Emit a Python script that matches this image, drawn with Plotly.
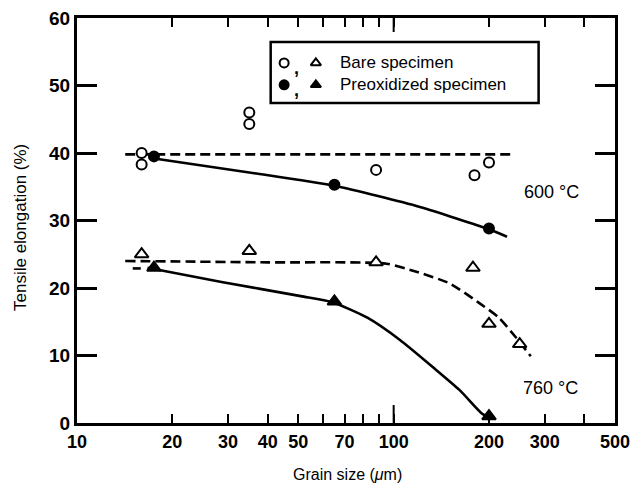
import math
import plotly.graph_objects as go

# Measured points: grain size (um) vs tensile elongation (%)
bare_600_x = [16, 16, 35, 35, 88, 180, 200]
bare_600_y = [40, 38.3, 46, 44.3, 37.5, 36.7, 38.6]
preox_600_x = [17.5, 65, 200]
preox_600_y = [39.5, 35.3, 28.8]

bare_760_x = [16, 35, 88, 178, 200, 250]
bare_760_y = [25, 25.5, 23.8, 23, 14.7, 11.7]
preox_760_x = [17.5, 65, 200]
preox_760_y = [23, 18, 1]

# Trend curves drawn through the data
trend_bare_600_x = [14.2, 234]
trend_bare_600_y = [39.8, 39.8]
trend_preox_600_x = [16.9, 36.3, 65.5, 121, 200, 228]
trend_preox_600_y = [39.3, 37.0, 35.1, 32.0, 28.7, 27.6]
trend_bare_760_x = [14.2, 40, 95, 118, 150, 186, 215, 243, 271]
trend_bare_760_y = [24.0, 23.8, 23.6, 22.4, 20.7, 17.8, 15.6, 12.7, 9.9]
trend_preox_760_x = [16.7, 28.6, 50.9, 64, 82.6, 104.7, 132.8, 161.3, 189, 198]
trend_preox_760_y = [23.0, 20.9, 18.8, 17.9, 15.6, 12.3, 8.3, 4.9, 1.5, 0.9]
stub_760_x = [15.0, 15.9]
stub_760_y = [22.9, 22.9]

# Axis ticks
x_tick_vals = [10, 20, 30, 40, 50, 70, 100, 200, 300, 500]
x_tick_text = ["10", "20", "30", "40", "50", "70", "100", "200", "300", "500"]
x_minor_vals = [60, 80, 90, 400]
x_long_marks = [100]
y_tick_vals = [0, 10, 20, 30, 40, 50, 60]

FONT = "Liberation Sans, Arial, sans-serif"
DASH = "10px,5px"

L, R, T, B = 77, 16, 18, 62
PW, PH = 631 - L - R, 485 - T - B
X_MIN, X_MAX = 10, 500
Y_MAX = 60
LOG_SPAN = math.log10(X_MAX) - math.log10(X_MIN)
PX_Y = PH / Y_MAX           # pixels per y unit


def paper_to_x(fx):
    return 10 ** (math.log10(X_MIN) + fx * LOG_SPAN)


def paper_to_y(fy):
    return fy * Y_MAX


fig = go.Figure()


def curve(x, y, dash, shape="spline", width=2.6):
    fig.add_trace(go.Scatter(
        x=x, y=y, mode="lines",
        line=dict(color="black", width=width, dash=dash, shape=shape, smoothing=0.6),
        showlegend=False, hoverinfo="skip"))


curve(trend_bare_600_x, trend_bare_600_y, DASH, "linear")
curve(trend_preox_600_x, trend_preox_600_y, "solid")
curve(trend_bare_760_x, trend_bare_760_y, DASH)
curve(trend_preox_760_x, trend_preox_760_y, "solid")
curve(stub_760_x, stub_760_y, "solid", "linear")

# Longer decade tick at 100, bottom and top
tx, ty = [], []
for xv in x_long_marks:
    tx += [xv, xv, None, xv, xv, None]
    ty += [0, 18 / PX_Y, None, Y_MAX, Y_MAX - 14 / PX_Y, None]
curve(tx, ty, "solid", "linear", 2)


def points(x, y, symbol, size, filled):
    fig.add_trace(go.Scatter(
        x=x, y=y, mode="markers",
        marker=dict(symbol=symbol, size=size, color="black" if filled else "white",
                    line=dict(color="black", width=2)),
        showlegend=False, hoverinfo="skip"))


points(bare_600_x, bare_600_y, "circle", 10, False)
points(preox_600_x, preox_600_y, "circle", 10, True)
points(bare_760_x, bare_760_y, "triangle-up", 12, False)
points(preox_760_x, preox_760_y, "triangle-up", 12, True)

# Legend box and its key symbols
fig.add_shape(type="rect", xref="paper", yref="paper",
              x0=0.360, x1=0.858, y0=0.790, y1=0.941,
              line=dict(color="black", width=2.5), layer="above")
key_x = [paper_to_x(0.385), paper_to_x(0.444)]
row_bare, row_preox = 0.889, 0.835
points(key_x, [paper_to_y(row_bare)] * 2, ["circle", "triangle-up"], 9, False)
points(key_x, [paper_to_y(row_preox)] * 2, ["circle", "triangle-up"], 9, True)
for yk in (row_bare, row_preox):
    fig.add_annotation(xref="paper", yref="paper", x=0.4, y=yk - 0.012, text="<b>,</b>",
                       showarrow=False, xanchor="left", yanchor="middle",
                       font=dict(family=FONT, size=18, color="black"))
fig.add_annotation(xref="paper", yref="paper", x=0.485, y=row_bare, xanchor="left", yanchor="middle",
                   text="Bare specimen", showarrow=False,
                   font=dict(family=FONT, size=17, color="black"))
fig.add_annotation(xref="paper", yref="paper", x=0.485, y=row_preox, xanchor="left", yanchor="middle",
                   text="Preoxidized specimen", showarrow=False,
                   font=dict(family=FONT, size=17, color="black"))

# Temperature labels
fig.add_annotation(x=2.499, y=34.2, xref="x", yref="y", text="600 °C", showarrow=False,
                   font=dict(family=FONT, size=18, color="black"))
fig.add_annotation(x=2.495, y=5.2, xref="x", yref="y", text="760 °C", showarrow=False,
                   font=dict(family=FONT, size=18, color="black"))

# Axis titles
fig.add_annotation(xref="paper", yref="paper", x=(347 - L) / PW, y=-(474 - (T + PH)) / PH,
                   text="Grain size (<i>μ</i>m)", showarrow=False, yanchor="middle",
                   font=dict(family=FONT, size=16, color="black"))
fig.add_annotation(xref="paper", yref="paper", x=-(L - 20) / PW, y=(T + PH - 228) / PH,
                   text="Tensile elongation (%)", showarrow=False, textangle=-90,
                   xanchor="center", yanchor="middle",
                   font=dict(family=FONT, size=17, color="black"))

fig.update_layout(
    width=631, height=485,
    margin=dict(l=L, r=R, t=T, b=B),
    plot_bgcolor="white", paper_bgcolor="white",
    showlegend=False,
    xaxis=dict(
        type="log", range=[math.log10(X_MIN), math.log10(X_MAX)],
        tickvals=x_tick_vals, ticktext=x_tick_text,
        ticks="inside", ticklen=9, tickwidth=2, tickcolor="black",
        minor=dict(tickvals=x_minor_vals, ticks="inside", ticklen=9, tickwidth=2,
                   tickcolor="black", showgrid=False),
        showline=True, linecolor="black", linewidth=3, mirror="allticks",
        showgrid=False, zeroline=False, automargin=False,
        tickfont=dict(family=FONT, size=18, color="black", weight="bold"),
    ),
    yaxis=dict(
        range=[0, Y_MAX], tickvals=y_tick_vals,
        ticks="inside", ticklen=20, tickwidth=3, tickcolor="black",
        showline=True, linecolor="black", linewidth=3, mirror="allticks",
        showgrid=False, zeroline=False, automargin=False,
        tickfont=dict(family=FONT, size=19, color="black", weight="bold"),
    ),
)

fig.write_html("out.html")
